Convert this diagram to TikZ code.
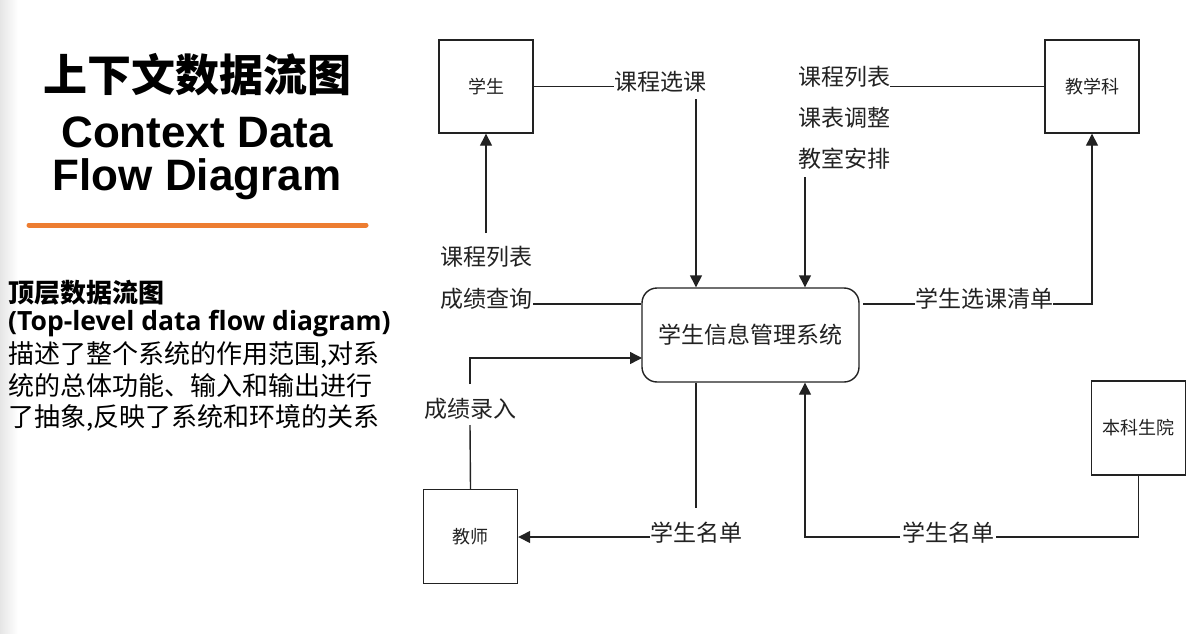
\documentclass[tikz,border=0pt]{standalone}
\usepackage{fontspec}
\usetikzlibrary{arrows.meta,calc}
\newfontfamily\cjk{Noto Sans CJK SC}
\newfontfamily\arialf{Liberation Sans}
\newfontfamily\opens{Open Sans}
\definecolor{accent}{RGB}{237,125,49}
\definecolor{ink}{RGB}{34,34,34}
\begin{document}
\begin{tikzpicture}[x=1pt,y=-1pt,
  ln/.style={line width=1.4pt, draw=ink},
  arr/.style={ln, -{Triangle[length=12pt,width=12pt]}},
  ent/.style={draw=ink, line width=1.4pt, minimum width=94pt, minimum height=93pt, inner sep=0pt, text=ink, font=\cjk\fontsize{18}{21}\selectfont},
  lbl/.style={inner sep=0pt, text=ink, font=\cjk\fontsize{23}{27}\selectfont},
  side/.style={anchor=west, inner sep=0pt, text=black},
]
\useasboundingbox (0,0) rectangle (1199,634);
\fill[white] (0,0) rectangle (1199,634);
\shade[left color=black!10, right color=white] (0,0) rectangle (18,634);

% left text panel
\node[inner sep=0pt, font=\cjk\bfseries\fontsize{44}{50}\selectfont] (t1) at (197,75) {上下文数据流图};
\node[inner sep=0pt, align=center, font=\arialf\bfseries\fontsize{44}{43}\selectfont] (t2) at (197,158) {Context Data\\Flow Diagram};
\draw[line width=5pt, draw=accent, line cap=round] (29,225) -- (366,225);
\node[side, font=\cjk\bfseries\fontsize{26}{30}\selectfont] (t4) at (8,293) {顶层数据流图};
\node[side, font=\opens\bfseries\fontsize{26.5}{30}\selectfont] (t5) at (8,324) {(Top-level data flow diagram)};
\node[side, font=\cjk\fontsize{26}{31}\selectfont] (t6) at (8,355) {描述了整个系统的作用范围,对系};
\node[side, font=\cjk\fontsize{26}{31}\selectfont] (t7) at (8,386) {统的总体功能、输入和输出进行};
\node[side, font=\cjk\fontsize{26}{31}\selectfont] (t8) at (8,418) {了抽象,反映了系统和环境的关系};

% entities
\node[ent] (stu) at (486,86.5) {学生};
\node[ent] (jxk) at (1092,86.5) {教学科};
\node[ent, minimum height=94pt] (tea) at (470.5,536.5) {教师};
\node[ent, minimum height=94pt] (bky) at (1138.5,428) {本科生院};
\node[draw=ink, line width=1.4pt, rounded corners=15pt, minimum width=217pt, minimum height=94pt, inner sep=0pt, text=ink, font=\cjk\fontsize{23}{27}\selectfont] (sys) at (750.5,335) {学生信息管理系统};

% flow labels
\node[lbl] (l1) at (660,82) {课程选课};
\node[lbl] (l2a) at (844,77) {课程列表};
\node[lbl] (l2b) at (844,118) {课表调整};
\node[lbl] (l2c) at (844,159) {教室安排};
\node[lbl] (l3) at (984,299) {学生选课清单};
\node[lbl] (l4) at (486.5,257) {课程列表};
\node[lbl] (l5) at (486.5,299) {成绩查询};
\node[lbl] (l6) at (470,409) {成绩录入};
\node[lbl] (l7) at (696.5,533) {学生名单};
\node[lbl] (l8) at (948,533) {学生名单};

% helper coordinates
\coordinate (c1) at (696,99);
\coordinate (c2) at (805,177);
\coordinate (c3) at (863,304);
\coordinate (c4) at (486,233);
\coordinate (c5) at (533,304);
\coordinate (c6a) at (470,425);
\coordinate (c6b) at (470,384);
\coordinate (c6c) at (642,358);
\coordinate (c7) at (696,508);
\coordinate (c7b) at (650,537);
\coordinate (c8) at (996,537);
\coordinate (c8b) at (900,537);

% connectors
\draw[ln] (stu.east) -- (stu.east -| l1.west);
\draw[arr] (c1) -- (c1 |- sys.north);
\draw[ln] (jxk.west -| l2a.east) -- (jxk.west);
\draw[arr] (c2) -- (c2 |- sys.north);
\draw[ln] (c3) -- (c3 -| l3.west);
\draw[arr] (c3 -| l3.east) -| (jxk.south);
\draw[arr] (c4) -- (stu.south);
\draw[ln] (c5) -- (c5 -| sys.west);
\draw[ln] (tea.north) -- (c6a);
\draw[arr] (c6b) |- (c6c);
\draw[ln] (c7 |- sys.south) -- (c7);
\draw[arr] (c7b) -- (c7b -| tea.east);
\draw[ln] (bky.south) |- (c8);
\draw[arr] (c8b) -| (c2 |- sys.south);
\end{tikzpicture}
\end{document}
